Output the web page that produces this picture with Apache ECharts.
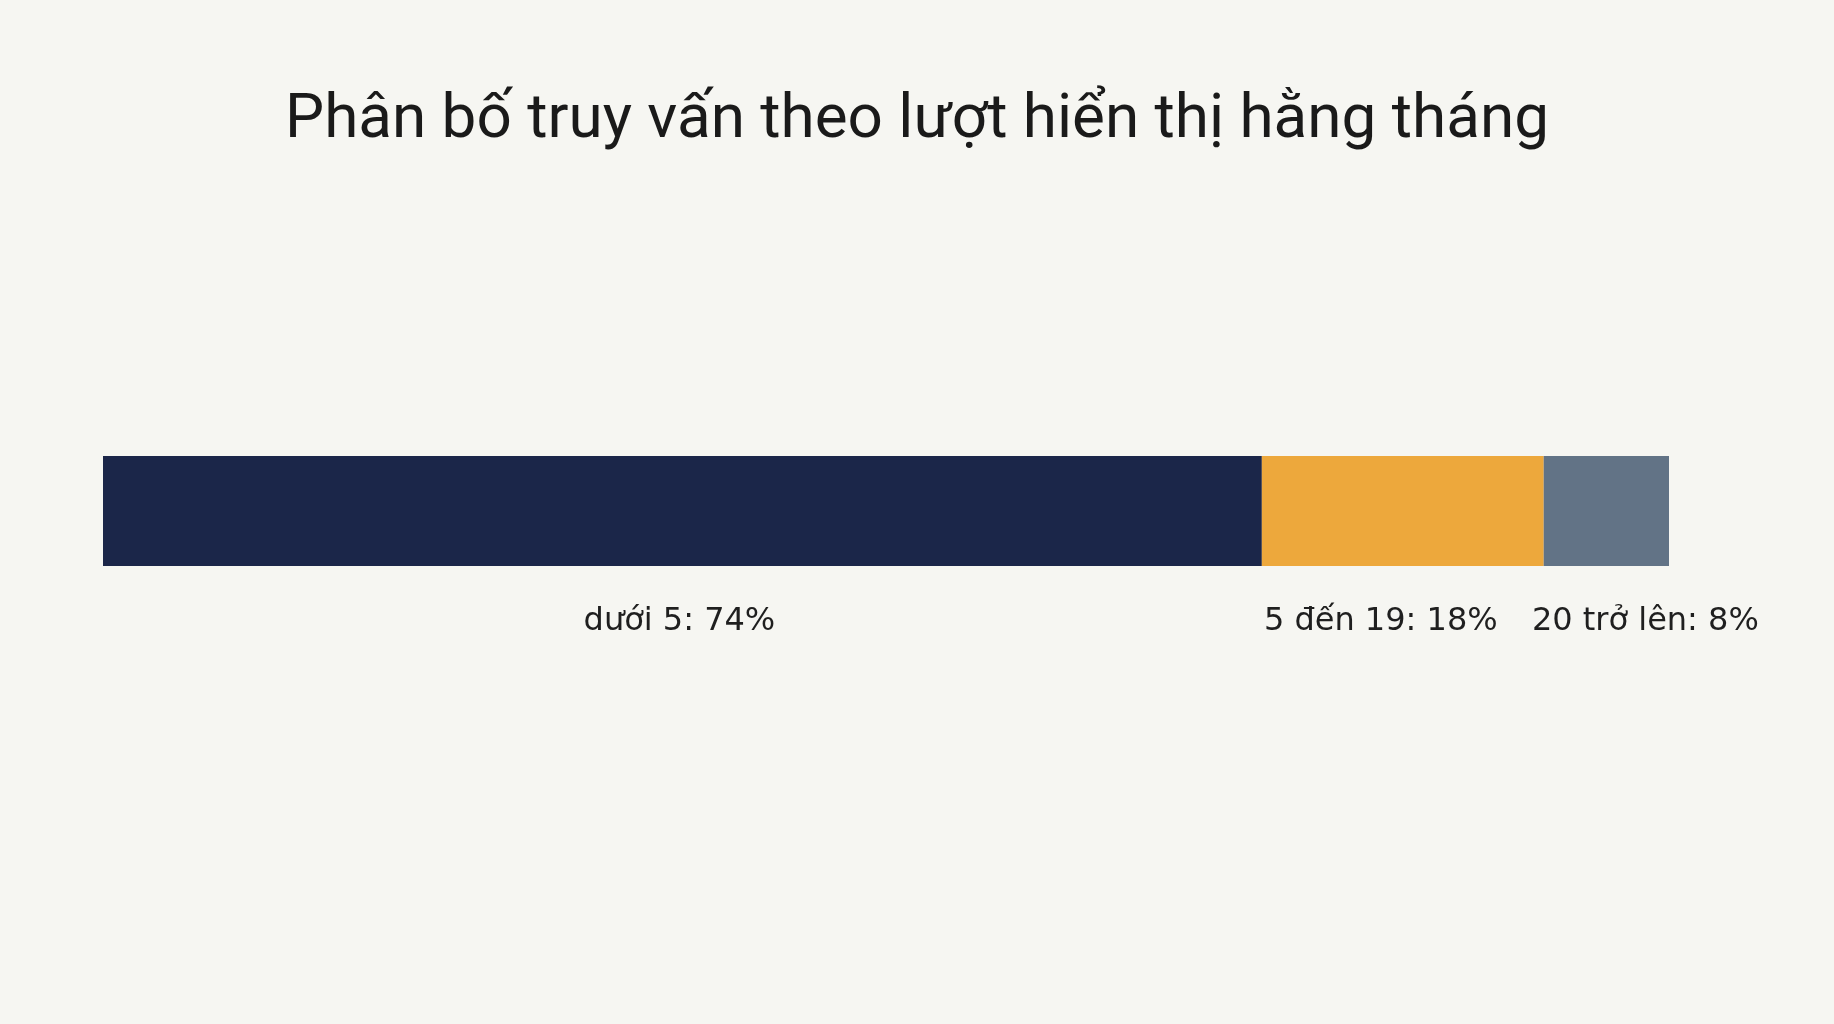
<!DOCTYPE html>
<html>
<head>
<meta charset="utf-8">
<script src="https://cdn.jsdelivr.net/npm/echarts@6/dist/echarts.min.js"></script>
<style>
html,body{margin:0;padding:0;background:#F6F6F2;}
#chart{width:1834px;height:1024px;}
</style>
</head>
<body>
<div id="chart"></div>
<script>
const titleText = 'Phân bố truy vấn theo lượt hiển thị hằng tháng';
const categories = ['Truy vấn'];
const seriesNames = ['dưới 5', '5 đến 19', '20 trở lên'];
const seriesValues = [74, 18, 8];
const seriesColors = ['#1B2649', '#EDA83C', '#627386'];
const labelOffsets = [[-3, 0], [-22, 0], [39, 0]];

const chart = echarts.init(document.getElementById('chart'));
const TITLE_FONT = 'Roboto, "Noto Sans", sans-serif';
const LABEL_FONT = '"DejaVu Sans", Roboto, sans-serif';

chart.setOption({
  backgroundColor: '#F6F6F2',
  animation: false,
  title: {
    text: titleText,
    left: 'center',
    top: 85,
    textStyle: { fontFamily: TITLE_FONT, fontSize: 62, fontWeight: 'normal', color: '#1a1a1a' }
  },
  grid: { left: 103, right: 165, top: 456, height: 110 },
  xAxis: { type: 'value', min: 0, max: 100, show: false },
  yAxis: { type: 'category', data: categories, show: false },
  series: seriesNames.map((name, i) => ({
    name: name,
    type: 'bar',
    stack: 'total',
    barWidth: 110,
    data: [seriesValues[i]],
    itemStyle: { color: seriesColors[i] },
    label: {
      show: true,
      position: 'bottom',
      distance: 40,
      offset: labelOffsets[i],
      formatter: p => p.seriesName + ': ' + p.value + '%',
      fontFamily: LABEL_FONT,
      fontSize: 32,
      color: '#1f1f1f'
    }
  }))
});
</script>
</body>
</html>
